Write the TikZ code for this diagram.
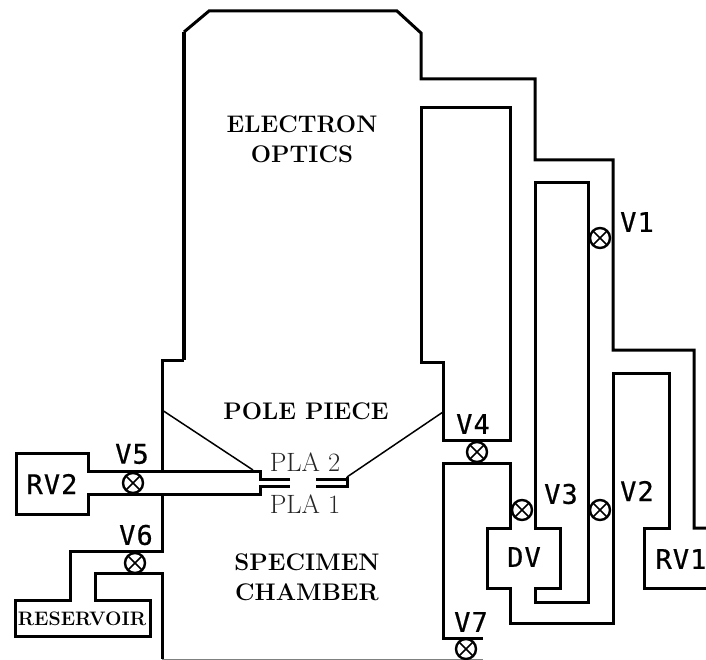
\documentclass[tikz,border=0pt]{standalone}
\usepackage{fontspec}
\newfontfamily\valvefont[LetterSpace=4,FakeBold=0.6]{DejaVu Sans Mono}
\tikzset{
  wall/.style={draw,line width=3pt,line join=miter},
  cone/.style={draw,line width=1.5pt},
  valve/.style={draw,circle,line width=2.4pt,minimum size=20pt,inner sep=0pt,fill=white,
    path picture={\draw[line width=1.6pt]
      (path picture bounding box.south west) -- (path picture bounding box.north east)
      (path picture bounding box.north west) -- (path picture bounding box.south east);}},
  vlabel/.style={inner sep=0pt,font=\valvefont\fontsize{27}{27}\selectfont},
  region/.style={inner sep=0pt,align=center,font=\bfseries\fontsize{24}{30}\selectfont},
  pla/.style={inner sep=0pt,font=\fontsize{26.5}{27}\selectfont,text=black!85},
}
\begin{document}
\begin{tikzpicture}[x=1pt,y=-1pt]
        \useasboundingbox (0,0) rectangle (706,660);

        % column and pumping lines
        \draw[wall] (162,471) -- (162,360) -- (184,360);
        \draw[wall,line width=4.5pt] (184,360) -- (184,32);
        \draw[wall] (184,32) -- (209,11) -- (397,11) -- (421,33) -- (421,79) -- (535,79)
          -- (535,160) -- (613,160) -- (613,350) -- (694,350) -- (694,528) -- (706,528);
        \draw[wall] (706,588) -- (644,588) -- (644,528) -- (669,528) -- (669,373) -- (613,373)
          -- (613,623) -- (510,623) -- (510,588) -- (487,588) -- (487,528) -- (510,528)
          -- (510,463) -- (443,463) -- (443,638) -- (483,638);
        \draw[wall] (443,440) -- (510,440) -- (510,108) -- (421,108) -- (421,362) -- (443,362)
          -- cycle;
        \draw[wall] (535,183) -- (588,183) -- (588,602) -- (535,602) -- (535,588) -- (560,588)
          -- (560,528) -- (535,528) -- cycle;

        % reservoir side
        \draw[wall] (316,479) -- (347,479);
        \draw[wall] (316,486) -- (347,486) -- (347,477);
        \draw[wall] (290,479) -- (260,479) -- (260,471) -- (88,471) -- (88,453) -- (16,453)
          -- (16,514) -- (88,514) -- (88,494) -- (260,494) -- (260,486) -- (290,486);
        \draw[wall] (162,494) -- (162,551) -- (70,551) -- (70,600) -- (15,600) -- (15,636)
          -- (150,636) -- (150,600) -- (95,600) -- (95,573) -- (162,573) -- (162,659);
        \draw[gray,line width=1pt] (162,659) -- (483,659);

        % pole piece
        \draw[cone] (162,410) -- (253,470);
        \draw[cone] (347,477) -- (443,412);

        \path
        (600,238) node[valve](v1) {}
        (600,510) node[valve](v2) {}
        (522,510) node[valve](v3) {}
        (477,452) node[valve](v4) {}
        (133,483) node[valve](v5) {}
        (135,563) node[valve](v6) {}
        (466,649) node[valve](v7) {}
        (637,222) node[vlabel](lv1) {V1}
        (637,491) node[vlabel](lv2) {V2}
        (561,494) node[vlabel](lv3) {V3}
        (473,424) node[vlabel](lv4) {V4}
        (132,454) node[vlabel](lv5) {V5}
        (136,535) node[vlabel](lv6) {V6}
        (471,622) node[vlabel](lv7) {V7}
        (52,484) node[vlabel](rv2) {RV2}
        (524,557) node[vlabel](dv) {DV}
        (681,559) node[vlabel](rv1) {RV1}
        (302,139) node[region](optics) {ELECTRON\\OPTICS}
        (306,411) node[region](pole) {POLE PIECE}
        (307,577) node[region](chamber) {SPECIMEN\\CHAMBER}
        (305,462) node[pla](pla2) {PLA 2}
        (305,504) node[pla](pla1) {PLA 1}
        (82,619) node[region,font=\bfseries\fontsize{19.5}{20}\selectfont](reservoir) {RESERVOIR}
        ;
      \end{tikzpicture}
\end{document}
